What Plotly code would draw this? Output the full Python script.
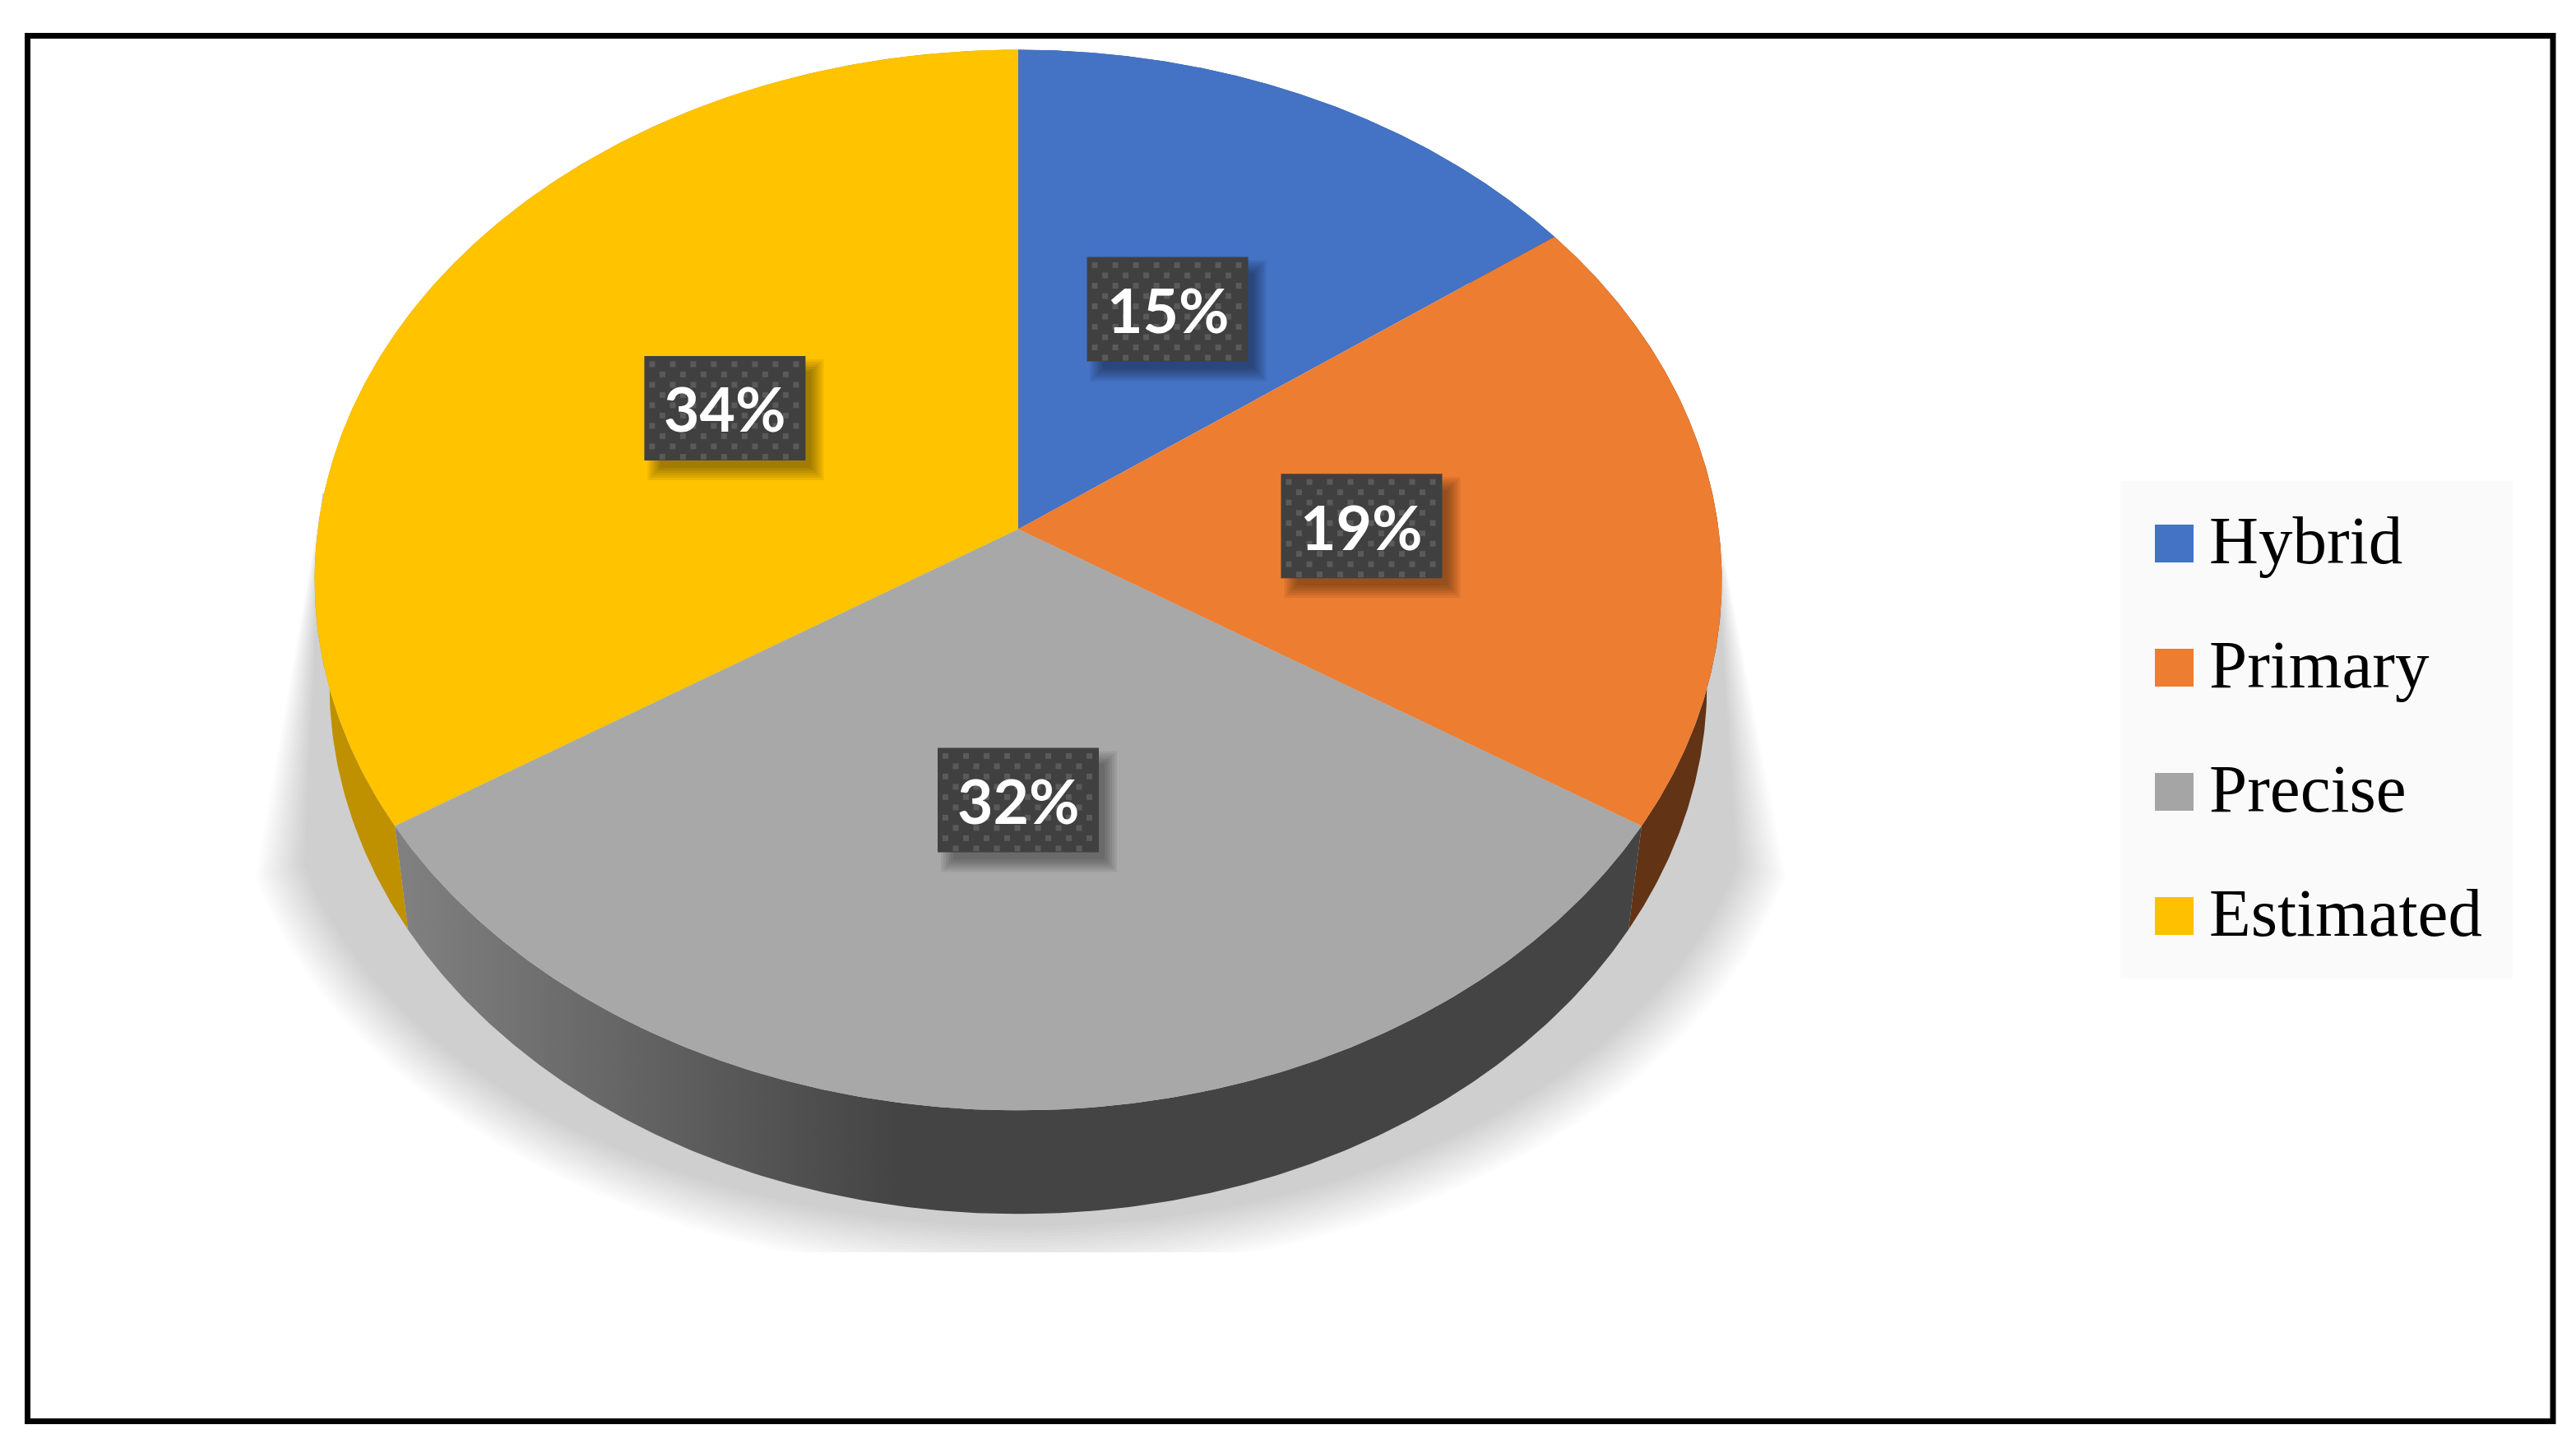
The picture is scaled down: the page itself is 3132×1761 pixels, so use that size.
import numpy as np
import plotly.graph_objects as go

categories = ["Hybrid", "Primary", "Precise", "Estimated"]
values = [15, 19, 32, 34]
top_colors = ["#4472C4", "#ED7D31", "#A8A8A8", "#FFC300"]
legend_colors = ["#4472C4", "#ED7D31", "#A5A5A5", "#FFC000"]
side_colors = ["#2F5597", "#623314", "#444444", "#BF9000"]
label_radius = [0.51, 0.492, 0.466, 0.5]
label_nudge = [0, 6, 0, 0]

W, H = 3132, 1761
BODY = 8   # the html page keeps its default body margin
CX, CY = 1238, 643.5
A, B, P = 851.5, 639, 0.096   # tilted disc, P is the perspective
DEPTH, SHRINK = 126, 0.979


def rim(theta, r=1.0):
    # clockwise from 12 o'clock
    d = 1 + P * np.cos(theta) * r
    return A * r * np.sin(theta) / d, B * r * np.cos(theta) / d


def poly(fig, x, y, color, **kw):
    fig.add_trace(go.Scatter(x=x, y=y, mode="lines", fill="toself", fillcolor=color,
                             line=dict(width=0), hoverinfo="skip", showlegend=False, **kw))


def rect(fig, x0, y0, x1, y1, color):
    poly(fig, [x0, x1, x1, x0, x0], [y0, y0, y1, y1, y0], color)


fig = go.Figure()

# soft drop shadow under the disc
layers = 16
alpha = 1 - 0.82 ** (1 / layers)
for d in np.linspace(30, -30, layers):
    t = np.linspace(np.arcsin(0.24), np.pi - np.arcsin(0.24), 120)
    ax = 1241 - np.cos(t) * (928 + d)
    ay = np.minimum(913 + np.sin(t) * (609 + d), 1523)
    xs = [392] + list(ax) + [2082, 392]
    ys = [600] + list(ay) + [600, 600]
    poly(fig, xs, ys, f"rgba(0,0,0,{alpha:.4f})")

edges = np.cumsum([0] + values) / sum(values) * 2 * np.pi

# side walls first, the top faces then hide the back half
for i in range(len(values)):
    t = np.linspace(edges[i], edges[i + 1], 200)
    rx, ry = rim(t)
    xs = np.concatenate([CX + rx, (CX + SHRINK * rx)[::-1]])
    ys = np.concatenate([CY - ry, (CY - ry + DEPTH)[::-1]])
    if categories[i] == "Precise":
        poly(fig, xs, ys, side_colors[i],
             fillgradient=dict(type="horizontal", start=490, stop=1090,
                               colorscale=[[0, "#808080"], [1, "#444444"]]))
    else:
        poly(fig, xs, ys, side_colors[i])

for i in range(len(values)):
    t = np.linspace(edges[i], edges[i + 1], 200)
    rx, ry = rim(t)
    poly(fig, np.concatenate([[CX], CX + rx, [CX]]), np.concatenate([[CY], CY - ry, [CY]]), top_colors[i])

# data labels: dark box with a dotted fill and a blurred shadow
BW, BH = 196, 127
dot_x, dot_y = [], []
annotations = []
for i, v in enumerate(values):
    lx, ly = rim((edges[i] + edges[i + 1]) / 2)
    mx, my = CX + lx * label_radius[i], CY - ly * label_radius[i] + label_nudge[i]
    x0, y0 = mx - BW / 2, my - BH / 2
    for s in range(6):
        rect(fig, x0 + 4 + s * 3, y0 + 4 + s * 3, x0 + BW + 22 - s * 3, y0 + BH + 24 - s * 3, "rgba(0,0,0,0.07)")
    rect(fig, x0, y0, x0 + BW, y0 + BH, "#404040")
    for row, yy in enumerate(np.arange(y0 + 10, y0 + BH, 12.5)):
        off = 9.5 if row % 2 == 0 else 22
        for xx in np.arange(x0 + off, x0 + BW - 2, 25):
            dot_x.append(xx)
            dot_y.append(yy)
    annotations.append(dict(x=mx, y=my, text=f"{v}%", showarrow=False, xanchor="center", yanchor="middle",
                            font=dict(family="Lato", size=75, color="white", weight="bold")))

fig.add_trace(go.Scatter(x=dot_x, y=dot_y, mode="markers", hoverinfo="skip", showlegend=False,
                         marker=dict(symbol="square", size=7, color="#5A5A5A", line=dict(width=0))))

# legend panel
rect(fig, 2578, 585, 3055, 1190, "#FAFAFA")
legend_y = [661, 812, 963, 1114]
for name, color, yy in zip(categories, legend_colors, legend_y):
    rect(fig, 2620, yy - 23, 2667, yy + 23, color)
    annotations.append(dict(x=2684, y=yy - 4, text=name, showarrow=False, xanchor="left", yanchor="middle",
                            font=dict(family="Liberation Serif", size=83, color="black")))

fig.add_shape(type="rect", x0=33.5, y0=43.5, x1=3104, y1=1728.5, line=dict(color="black", width=7))

fig.update_layout(
    width=W - 2 * BODY, height=H - 2 * BODY,
    margin=dict(l=0, r=0, t=0, b=0),
    paper_bgcolor="white",
    plot_bgcolor="white",
    annotations=annotations,
    showlegend=False,
    xaxis=dict(range=[BODY, W - BODY], visible=False, fixedrange=True),
    yaxis=dict(range=[H - BODY, BODY], visible=False, fixedrange=True),
)
fig.write_html("out.html", config=dict(displayModeBar=False))
